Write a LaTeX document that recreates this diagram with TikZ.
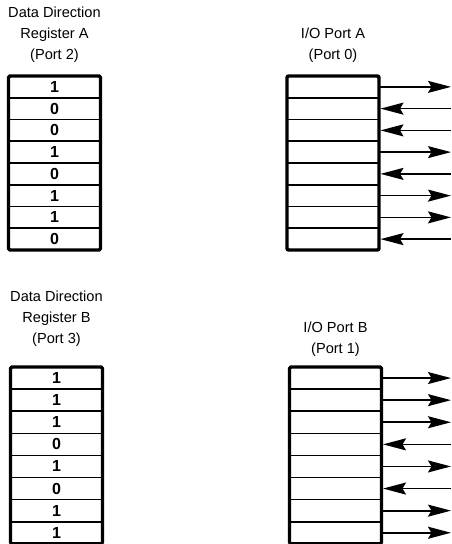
\documentclass[tikz,border=0pt]{standalone}
\usepackage{fontspec}
\setmainfont{Liberation Sans}
\usetikzlibrary{arrows.meta,positioning}

\begin{document}
\begin{tikzpicture}[x=1pt,y=-1pt,>={Stealth[length=23pt,width=12pt,inset=3.5pt]},
    cell/.style={draw,line width=1.6pt,minimum width=92pt,minimum height=21.75pt,inner sep=0pt,outer sep=0pt,font=\bfseries\fontsize{16}{16}\selectfont},
    frame/.style={line width=3.2pt,rounded corners=1.5pt},
    title/.style={align=center,inner sep=0pt,font=\fontsize{14.6}{21}\selectfont},
    wire/.style={line width=1.7pt}]
  \useasboundingbox (0,0) rectangle (451,544);

  % register A and port A
  \foreach \b [count=\i] in {1,0,0,1,0,1,1,0}{
    \node[cell] (ddra\i) at (54.5,{76+21.75*(\i-0.5)}) {\b};
    \node[cell] (porta\i) at (333,{76+21.75*(\i-0.5)}) {};
    \coordinate (pina\i) at (451,{76+21.75*(\i-0.5)});
    \ifnum\b=1 \draw[wire,->] (porta\i.east) -- (pina\i);
    \else \draw[wire,->,shorten >=1.5pt] (pina\i) -- (porta\i.east); \fi
  }
  \draw[frame] (ddra1.north west) rectangle (ddra8.south east);
  \draw[frame] (porta1.north west) rectangle (porta8.south east);
  \node[title,above=13pt of ddra1] (ddratitle) {Data Direction\\Register A\\(Port 2)};
  \node[title,above=13pt of porta1] (portatitle) {I/O Port A\\(Port 0)};

  % register B and port B
  \foreach \b [count=\i] in {1,1,1,0,1,0,1,1}{
    \node[cell,minimum height=22.1pt] (ddrb\i) at (56.5,{367+22.1*(\i-0.5)}) {\b};
    \node[cell,minimum height=22.1pt] (portb\i) at (335.5,{367+22.1*(\i-0.5)}) {};
    \coordinate (pinb\i) at (451,{367+22.1*(\i-0.5)});
    \ifnum\b=1 \draw[wire,->] (portb\i.east) -- (pinb\i);
    \else \draw[wire,->,shorten >=1.5pt] (pinb\i) -- (portb\i.east); \fi
  }
  \draw[frame] (ddrb1.north west) rectangle (ddrb8.south east);
  \draw[frame] (portb1.north west) rectangle (portb8.south east);
  \node[title,above=20pt of ddrb1] (ddrbtitle) {Data Direction\\Register B\\(Port 3)};
  \node[title,above=10pt of portb1] (portbtitle) {I/O Port B\\(Port 1)};
\end{tikzpicture}
\end{document}
